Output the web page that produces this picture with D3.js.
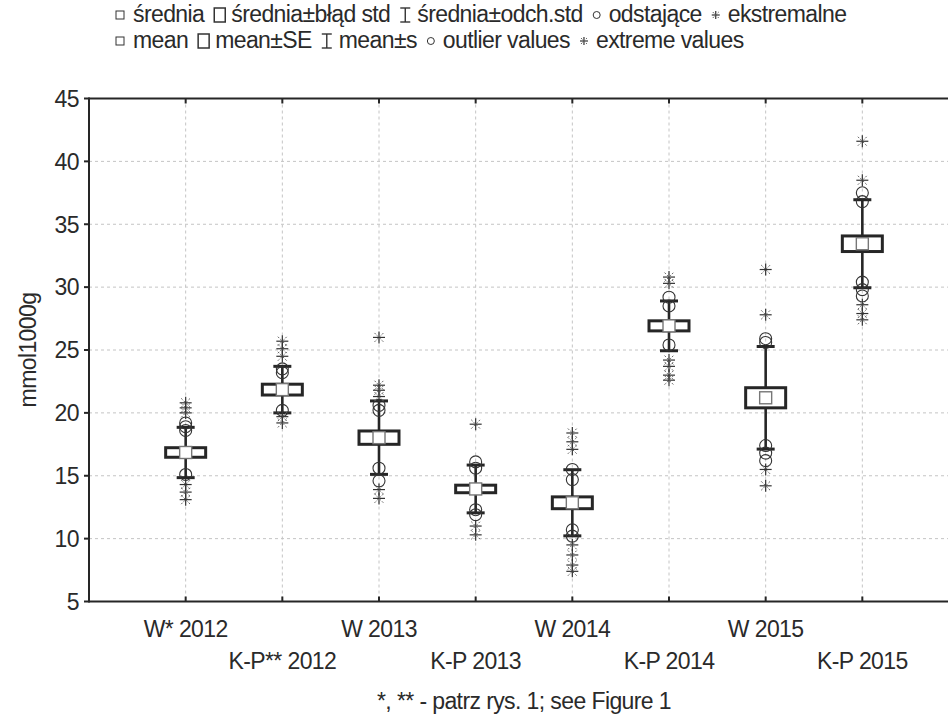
<!DOCTYPE html>
<html><head><meta charset="utf-8">
<script src="https://cdn.jsdelivr.net/npm/d3@7"></script>
<style>body{margin:0;background:#fff}svg text{font-family:"Liberation Sans",Arial,sans-serif;fill:#2a2a2a;letter-spacing:-0.6px}</style>
</head><body><svg id="c" width="948" height="716"></svg>
<script>
const categories = ["W* 2012","K-P** 2012","W 2013","K-P 2013","W 2014","K-P 2014","W 2015","K-P 2015"];
const means = [16.85, 21.85, 18.03, 13.95, 12.85, 26.92, 21.2, 33.45];
const se    = [0.38, 0.43, 0.53, 0.30, 0.47, 0.40, 0.80, 0.62];
const sd    = [2.0, 1.85, 2.92, 1.9, 2.63, 1.98, 4.08, 3.5];
const outliers = [
  [19.2, 18.9, 18.6, 15.1],
  [23.5, 23.2, 20.2],
  [20.6, 20.2, 15.6, 14.6],
  [16.1, 15.6, 12.3, 11.9],
  [15.5, 14.7, 10.7, 10.2],
  [29.2, 28.5, 25.4],
  [25.9, 25.6, 17.4, 16.8, 16.2],
  [37.5, 36.8, 30.4, 29.8, 29.3]
];
const extremes = [
  [20.8, 20.4, 20.0, 14.3, 13.7, 13.1],
  [25.7, 25.1, 24.5, 19.7, 19.2],
  [26.0, 22.2, 21.8, 21.3, 13.9, 13.2],
  [19.1, 11.0, 10.3],
  [18.4, 17.7, 17.1, 9.5, 8.7, 7.9, 7.4],
  [30.8, 30.3, 24.2, 23.7, 23.0, 22.6],
  [31.4, 27.8, 15.5, 14.2],
  [41.6, 38.5, 28.6, 27.9, 27.4]
];
const yTicks = [5,10,15,20,25,30,35,40,45];
const yTitle = "mmol1000g";
const footnote = "*, ** - patrz rys. 1;  see Figure 1";
const legendPL = ["średnia","średnia±błąd std","średnia±odch.std","odstające","ekstremalne"];
const legendEN = ["mean","mean±SE","mean±s","outlier values","extreme values"];

const svg = d3.select("#c");
const L = 89, R = 959, T = 98.5, B = 601.5;
const FS = 23;
const x = d3.scalePoint().domain(["_a", ...categories, "_b"]).range([L, R]);
const y = d3.scaleLinear().domain([5,45]).range([B, T]);
const ink = "#262626";

// grid
const g = svg.append("g");
g.selectAll(".hg").data(yTicks.filter(t=>t>5&&t<45)).join("line")
  .attr("x1", L).attr("x2", R).attr("y1", d=>y(d)).attr("y2", d=>y(d))
  .attr("stroke","#c4c4c4").attr("stroke-dasharray","3,3");
g.selectAll(".vg").data(categories).join("line")
  .attr("x1", d=>x(d)).attr("x2", d=>x(d)).attr("y1", T).attr("y2", B)
  .attr("stroke","#c4c4c4").attr("stroke-dasharray","3,3");

// axes
const ax = svg.append("g").attr("stroke", ink).attr("stroke-width", 2);
ax.append("line").attr("x1", L).attr("x2", R).attr("y1", T).attr("y2", T);
ax.append("line").attr("x1", L).attr("x2", R).attr("y1", B).attr("y2", B);
ax.append("line").attr("x1", L).attr("x2", L).attr("y1", T-1).attr("y2", B+1);
ax.selectAll(".bt").data(categories).join("line")
  .attr("x1", d=>x(d)).attr("x2", d=>x(d)).attr("y1", B).attr("y2", B-5);
ax.selectAll(".tt").data(categories).join("line")
  .attr("x1", d=>x(d)).attr("x2", d=>x(d)).attr("y1", T).attr("y2", T+5);
ax.selectAll(".yt").data(yTicks).join("line")
  .attr("x1", L).attr("x2", L-5).attr("y1", d=>y(d)).attr("y2", d=>y(d));

svg.selectAll(".yl").data(yTicks).join("text")
  .attr("x", 79).attr("y", d=>y(d)).attr("dy","0.36em").attr("text-anchor","end")
  .attr("font-size", FS).text(d=>d);
svg.append("text").attr("transform","translate(36,350) rotate(-90)")
  .attr("text-anchor","middle").attr("font-size", FS).text(yTitle);
svg.selectAll(".xl").data(categories).join("text")
  .attr("x", d=>x(d)).attr("y", (d,i)=> i%2===0 ? 637 : 669)
  .attr("text-anchor","middle").attr("font-size", FS).text(d=>d);
svg.append("text").attr("x", 524).attr("y", 709).attr("text-anchor","middle")
  .attr("font-size", FS).text(footnote);

// marks
function asterisk(sel, cx, cy, s){
  const a = sel.append("g").attr("transform",`translate(${cx},${cy})`);
  a.append("line").attr("x1",0).attr("x2",0).attr("y1",-s).attr("y2",s).attr("stroke","#333").attr("stroke-width",1.2);
  a.append("line").attr("x1",-s).attr("x2",s).attr("y1",0).attr("y2",0).attr("stroke","#333").attr("stroke-width",1.2);
  const d = s*0.75;
  a.append("line").attr("x1",-d).attr("x2",d).attr("y1",-d).attr("y2",d).attr("stroke","#666").attr("stroke-width",1).attr("stroke-dasharray","2,1.5");
  a.append("line").attr("x1",-d).attr("x2",d).attr("y1",d).attr("y2",-d).attr("stroke","#666").attr("stroke-width",1).attr("stroke-dasharray","2,1.5");
}
const m = svg.append("g");
categories.forEach((c,i)=>{
  const cx = x(c);
  m.append("line").attr("x1",cx).attr("x2",cx).attr("y1",y(means[i]+sd[i])).attr("y2",y(means[i]-sd[i]))
    .attr("stroke",ink).attr("stroke-width",2.6);
  [means[i]+sd[i], means[i]-sd[i]].forEach(v=>{
    m.append("line").attr("x1",cx-9).attr("x2",cx+9).attr("y1",y(v)).attr("y2",y(v))
      .attr("stroke",ink).attr("stroke-width",3);
  });
  m.append("rect").attr("x",cx-20).attr("width",40)
    .attr("y",y(means[i]+se[i])).attr("height",y(means[i]-se[i])-y(means[i]+se[i]))
    .attr("fill","#fff").attr("stroke",ink).attr("stroke-width",3);
  m.append("rect").attr("x",cx-6).attr("y",y(means[i])-6).attr("width",12).attr("height",12)
    .attr("fill","#fff").attr("stroke","#777").attr("stroke-width",1.4);
  outliers[i].forEach(v=>{
    m.append("circle").attr("cx",cx).attr("cy",y(v)).attr("r",6)
      .attr("fill","none").attr("stroke","#333").attr("stroke-width",1.1);
  });
  extremes[i].forEach(v=>asterisk(m, cx, y(v), 6));
});

// legend
function legendRow(labels, yb){
  let cx = 116;
  const lg = svg.append("g");
  const yc = yb - 7;
  labels.forEach((lab,i)=>{
    if(i===0){
      lg.append("rect").attr("x",cx).attr("y",yc-4).attr("width",8).attr("height",8)
        .attr("fill","#fff").attr("stroke","#333").attr("stroke-width",1);
      cx += 17;
    } else if(i===1){
      lg.append("rect").attr("x",cx+1).attr("y",yc-7).attr("width",11).attr("height",14)
        .attr("fill","#fff").attr("stroke","#333").attr("stroke-width",1.5);
      cx += 18;
    } else if(i===2){
      const ig = lg.append("g").attr("stroke","#333").attr("stroke-width",1.4);
      ig.append("line").attr("x1",cx+6).attr("x2",cx+6).attr("y1",yc-7).attr("y2",yc+7);
      ig.append("line").attr("x1",cx+1).attr("x2",cx+11).attr("y1",yc-7).attr("y2",yc-7);
      ig.append("line").attr("x1",cx+1).attr("x2",cx+11).attr("y1",yc+7).attr("y2",yc+7);
      cx += 18;
    } else if(i===3){
      lg.append("circle").attr("cx",cx+5).attr("cy",yc).attr("r",3.5)
        .attr("fill","none").attr("stroke","#333").attr("stroke-width",1);
      cx += 17;
    } else {
      asterisk(lg, cx+5, yc, 4);
      cx += 17;
    }
    const t = lg.append("text").attr("x",cx).attr("y",yb).attr("font-size",FS).text(lab);
    cx += t.node().getComputedTextLength() + 9;
  });
}
legendRow(legendPL, 22);
legendRow(legendEN, 48);
</script></body></html>
